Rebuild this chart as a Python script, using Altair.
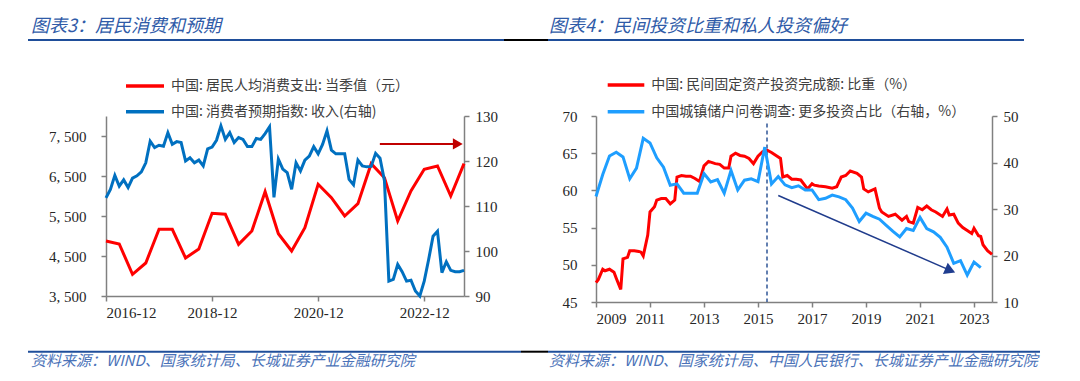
import altair as alt
import pandas as pd

# ================= 图表3 data =================
cons_start = "2016-12"          # quarterly
cons_vals = [4875, 4800, 4043, 4325, 5168, 5168, 4450, 4675, 5568, 5543,
             4793, 5125, 6108, 5058, 4625, 5208, 6293, 5958, 5500, 5808,
             6808, 6458, 5375, 6125, 6668, 6750, 6000, 6808]
exp_start = "2016-12"           # monthly
exp_vals = [111.8, 113.7, 116.8, 114.4, 115.8, 114.1, 116.2, 116.7, 117.6, 119.6,
            124.4, 123.0, 123.5, 123.3, 126.3, 123.7, 124.3, 124.1, 120.0, 120.7,
            119.6, 120.2, 118.9, 122.7, 123.1, 124.6, 127.8, 124.8, 126.3, 124.1,
            125.2, 124.8, 123.2, 123.2, 125.0, 124.8, 126.1, 127.6,
            111.9, 120.4, 118.2, 117.4, 113.7, 119.6, 117.8, 120.2, 121.1, 123.2,
            121.6, 123.7, 126.7, 122.4, 121.6, 121.6, 121.6, 115.9, 114.7, 120.2,
            118.9, 118.7, 118.8, 121.7, 120.6, 115.6, 93.3, 93.7, 97.0, 95.4,
            93.3, 93.5, 91.1, 90.0, 93.3, 98.1, 103.3, 104.4, 95.2, 97.6,
            95.7, 95.4, 95.4, 95.7]
arrow3_t = [2022.08, 2023.55]
arrow3_v = [123.8, 123.8]
x3_ticks = ["2016-12", "2018-12", "2020-12", "2022-12"]
y3_left_ticks = [3500, 4500, 5500, 6500, 7500]
y3_right_ticks = [90, 100, 110, 120, 130]

# ================= 图表4 data =================
priv_dates = ["2009-01", "2009-02", "2009-04", "2009-05", "2009-07", "2009-09", "2009-10", "2009-12",
              "2010-01", "2010-03", "2010-04", "2010-06", "2010-08", "2010-09", "2010-10", "2010-12",
              "2011-01", "2011-03", "2011-04", "2011-06", "2011-08", "2011-10", "2011-12",
              "2012-01", "2012-03", "2012-05", "2012-07", "2012-09", "2012-11",
              "2013-01", "2013-03", "2013-06", "2013-08", "2013-10", "2013-12",
              "2014-01", "2014-03", "2014-05", "2014-07", "2014-09", "2014-11",
              "2015-01", "2015-03", "2015-05", "2015-07", "2015-09", "2015-11", "2015-12",
              "2016-02", "2016-04", "2016-06", "2016-08", "2016-11",
              "2017-01", "2017-02", "2017-04", "2017-07", "2017-10", "2017-12",
              "2018-02", "2018-04", "2018-06", "2018-09", "2018-11", "2018-12",
              "2019-02", "2019-05", "2019-07", "2019-08", "2019-11",
              "2020-02", "2020-05", "2020-07", "2020-08", "2020-10", "2020-12",
              "2021-02", "2021-04", "2021-06", "2021-08", "2021-11",
              "2022-01", "2022-02", "2022-04", "2022-06", "2022-08", "2022-10", "2022-12",
              "2023-01", "2023-03", "2023-04", "2023-05", "2023-07", "2023-09"]
priv_vals = [47.6, 48.0, 49.4, 49.2, 49.4, 49.0, 48.2, 46.7,
             50.8, 51.0, 51.9, 51.9, 51.8, 51.7, 51.2, 54.0,
             57.1, 57.8, 58.7, 58.9, 58.9, 58.2, 58.7,
             61.8, 62.0, 61.9, 61.9, 61.6, 61.2,
             63.3, 63.9, 63.6, 63.5, 63.0, 63.0,
             64.6, 65.0, 64.7, 64.6, 64.3, 63.6,
             64.6, 65.2, 65.4, 65.1, 64.7, 64.3, 61.8,
             62.0, 61.5, 61.5, 61.4, 60.2,
             60.9, 60.7, 60.6, 60.5, 60.3, 60.5,
             61.8, 62.0, 62.6, 62.3, 61.8, 60.2,
             59.8, 60.2, 57.6, 57.1, 56.5,
             56.8, 56.0, 56.5, 55.8, 55.6, 57.7,
             57.4, 57.9, 57.4, 57.1, 56.5,
             57.5, 56.7, 56.8, 55.6, 55.0, 54.6, 54.2,
             54.9, 53.9, 53.8, 52.7, 51.9, 51.4]
survey_start = "2009-01"        # quarterly
survey_vals = [32.7, 37.4, 41.4, 42.2, 41.2, 36.5, 38.8, 45.2, 44.2, 41.0,
               39.0, 35.1, 35.4, 33.4, 33.4, 33.4, 37.6, 35.8, 36.3, 33.4,
               38.3, 34.1, 36.2, 36.5, 35.9, 43.3, 35.4, 37.0, 35.2, 34.6,
               35.0, 34.1, 34.1, 32.0, 32.3, 33.0, 32.6, 32.0, 30.2, 27.3,
               29.1, 28.4, 27.8, 26.5, 25.2, 24.0, 25.8, 25.4, 28.2, 25.8,
               25.1, 23.9, 21.8, 18.3, 18.9, 15.8, 18.6, 17.4]
vline4_date = "2015-05"
vline4_range = [45, 69]
arrow4_t = [2015.75, 2022.12]
arrow4_v = [32.9, 16.8]
x4_ticks = [2009, 2011, 2013, 2015, 2017, 2019, 2021, 2023]
y4_left_ticks = [45, 50, 55, 60, 65, 70]
y4_right_ticks = [10, 20, 30, 40, 50]

# ================= helpers =================
def to_t(s):
    y, m = s.split("-")
    return int(y) + (int(m) - 1) / 12


def series(start, n, step, vals):
    d = pd.date_range(start + "-01", periods=n, freq=f"{step}MS")
    return pd.DataFrame({"t": d.year + (d.month - 1) / 12, "v": vals})


CJK = "Noto Sans CJK SC"
NUM = "Liberation Serif"
BLUE_T = "#2F5BA8"
BLUE_L = "#1F4E9A"
one = pd.DataFrame({"a": [0]})


def txt(text, x, y, size, color, italic=False, weight="normal"):
    return alt.Chart(one).mark_text(
        align="left", baseline="alphabetic", font=CJK, fontSize=size, color=color,
        fontStyle="italic" if italic else "normal", fontWeight=weight
    ).encode(x=alt.value(x), y=alt.value(y), text=alt.value(text))


def hline(x1, x2, y, color, width):
    return alt.Chart(one).mark_rule(color=color, strokeWidth=width).encode(
        x=alt.value(x1), x2=alt.value(x2), y=alt.value(y))


def legend(x1, x2, y, color, label):
    return [hline(x1, x2, y, color, 3.5),
            alt.Chart(one).mark_text(align="left", baseline="middle", font=CJK, fontSize=14,
                                     color="#404040").encode(
                x=alt.value(x2 + 7), y=alt.value(y), text=alt.value(label))]


axis_common = dict(domainColor="#808080", tickColor="#808080", domainWidth=1.5,
                   tickWidth=1.5, tickSize=5, grid=False, labelFont=NUM,
                   labelFontSize=15, labelColor="#262626", title=None,
                   labelOverlap=False)

# ================= 图表3 =================
df_cons = series(cons_start, len(cons_vals), 3, cons_vals)
df_exp = series(exp_start, len(exp_vals), 1, exp_vals)
df_arr3 = pd.DataFrame({"t": arrow3_t, "v": arrow3_v})

x3 = alt.X("t:Q", title=None,
           scale=alt.Scale(domain=[to_t("2016-12"), to_t("2023-09")], nice=False, zero=False),
           axis=alt.Axis(values=[to_t(s) for s in x3_ticks],
                         labelExpr="floor(datum.value + 0.01) + '-12'",
                         labelPadding=4, **axis_common))

red3 = alt.Chart(df_cons).mark_line(color="#FF0000", strokeWidth=3).encode(
    x=x3,
    y=alt.Y("v:Q", title=None,
            scale=alt.Scale(domain=[3500, 8000], nice=False, zero=False),
            axis=alt.Axis(orient="left", values=y3_left_ticks, labelPadding=15,
                          labelExpr="replace(format(datum.value, ','), ',', ', ')",
                          **axis_common)))

blue3 = alt.Chart(df_exp).mark_line(color="#0070C0", strokeWidth=3).encode(
    x=alt.X("t:Q", title=None),
    y=alt.Y("v:Q", title=None,
            scale=alt.Scale(domain=[90, 130], nice=False, zero=False),
            axis=alt.Axis(orient="right", values=y3_right_ticks, labelPadding=6,
                          **axis_common)))
arr3_line = alt.Chart(df_arr3).mark_line(color="#C00000", strokeWidth=2).encode(
    x=alt.X("t:Q", title=None), y=alt.Y("v:Q", title=None))
arr3_head = alt.Chart(df_arr3.tail(1)).mark_point(
    shape="triangle-right", filled=True, size=130, color="#C00000", opacity=1).encode(
    x=alt.X("t:Q", title=None), y=alt.Y("v:Q", title=None))
right3 = alt.layer(blue3, arr3_line, arr3_head)

deco3 = [
    hline(-97, -96, -107, "white", 1),
    txt("图表3：居民消费和预期", -75, -84, 18, BLUE_T, italic=True),
    hline(-78, 398, -76, BLUE_L, 2),
    hline(398, 442, -76, "#000000", 2),
    hline(-78, 415, 235.7, BLUE_L, 2),
    hline(415, 442, 235.7, "#000000", 2),
    txt("资料来源：WIND、国家统计局、长城证券产业金融研究院", -75, 250, 15, "#4A72B8", italic=True),
] + legend(20, 58, -30, "#FF0000", "中国: 居民人均消费支出: 当季值（元）") \
  + legend(20, 58, -4.3, "#0070C0", "中国: 消费者预期指数: 收入(右轴)")

chart3 = alt.layer(red3, right3, *deco3).resolve_scale(y="independent").properties(
    width=358, height=180)

# ================= 图表4 =================
df_priv = pd.DataFrame({"t": [to_t(s) for s in priv_dates], "v": priv_vals})
df_surv = series(survey_start, len(survey_vals), 3, survey_vals)
df_vline = pd.DataFrame({"t": [to_t(vline4_date)], "v": [vline4_range[1]], "v2": [vline4_range[0]]})
df_arr4 = pd.DataFrame({"t": arrow4_t, "v": arrow4_v})

x4 = alt.X("t:Q", title=None,
           scale=alt.Scale(domain=[2009, to_t("2023-09")], nice=False, zero=False),
           axis=alt.Axis(values=x4_ticks, format="d", labelPadding=4, **axis_common))

y4_left_axis = alt.Axis(orient="left", values=y4_left_ticks, labelPadding=14, **axis_common)

red4 = alt.Chart(df_priv).mark_line(color="#FF0000", strokeWidth=3).encode(
    x=x4,
    y=alt.Y("v:Q", title=None,
            scale=alt.Scale(domain=[45, 70], nice=False, zero=False),
            axis=y4_left_axis))
vline4 = alt.Chart(df_vline).mark_rule(color="#2F5597", strokeWidth=1.5, strokeDash=[4, 3]).encode(
    x=alt.X("t:Q", title=None), y=alt.Y("v:Q", title=None, axis=y4_left_axis), y2="v2:Q")
left4 = alt.layer(red4, vline4)

blue4 = alt.Chart(df_surv).mark_line(color="#1E9EFF", strokeWidth=3).encode(
    x=alt.X("t:Q", title=None),
    y=alt.Y("v:Q", title=None,
            scale=alt.Scale(domain=[10, 50], nice=False, zero=False),
            axis=alt.Axis(orient="right", values=y4_right_ticks, labelPadding=6, **axis_common)))
arr4_line = alt.Chart(df_arr4).mark_line(color="#203C8C", strokeWidth=1.5).encode(
    x=alt.X("t:Q", title=None), y=alt.Y("v:Q", title=None))
arr4_head = alt.Chart(df_arr4.tail(1)).mark_point(
    shape="triangle-right", filled=True, size=150, color="#1F3D8F", opacity=1, angle=23).encode(
    x=alt.X("t:Q", title=None), y=alt.Y("v:Q", title=None))
right4 = alt.layer(blue4, arr4_line, arr4_head)

deco4 = [
    txt("图表4：民间投资比重和私人投资偏好", -47, -84, 18, BLUE_T, italic=True),
    hline(-48, 428, -76, BLUE_L, 2),
    hline(-48, 444, 235.7, BLUE_L, 2),
    txt("资料来源：WIND、国家统计局、中国人民银行、长城证券产业金融研究院", -47, 250, 15, "#4A72B8", italic=True),
] + legend(11.7, 48.3, -31, "#FF0000", "中国: 民间固定资产投资完成额: 比重（%）") \
  + legend(11.7, 48.3, -4.3, "#1E9EFF", "中国城镇储户问卷调查: 更多投资占比（右轴，%）")

chart4 = alt.layer(left4, right4, *deco4).resolve_scale(y="independent").properties(
    width=396, height=186)

chart = alt.hconcat(chart3, chart4, spacing=132, bounds="flush").properties(
    padding=0).configure_view(stroke=None).configure_axis(labelOverlap=False)

chart.save("out.html", embed_options={"renderer": "svg", "actions": False})
